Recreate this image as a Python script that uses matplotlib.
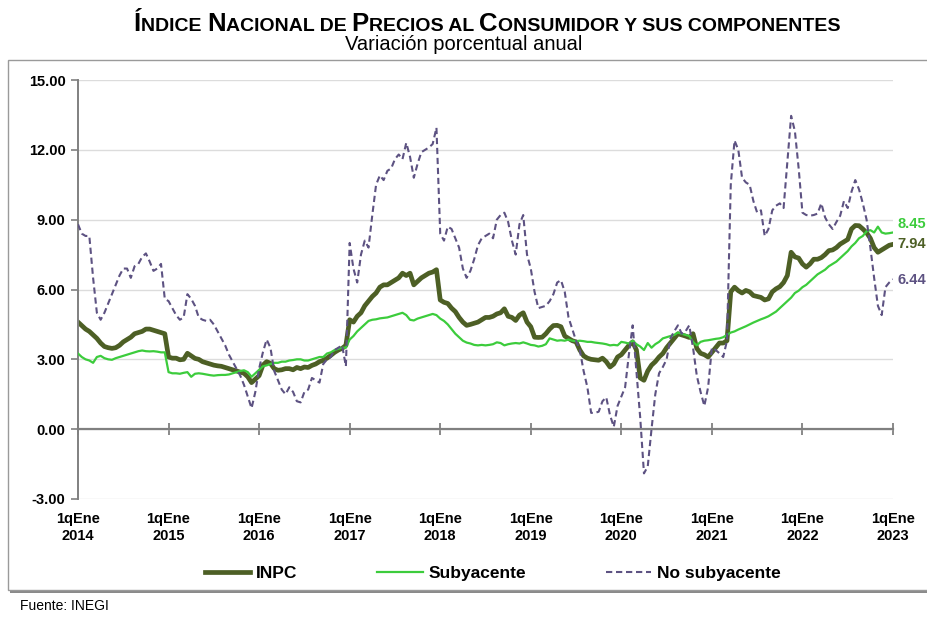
import matplotlib
matplotlib.use('Agg')
import matplotlib.pyplot as plt
from matplotlib import font_manager
from matplotlib.patches import Rectangle
import numpy as np

# ---------------- data (biweekly, 1q Jan 2014 ... 1q Jan 2023) ----------------
inpc = [
    4.60, 4.45, 4.30, 4.20, 4.05, 3.90, 3.70, 3.55, 3.50, 3.47, 3.50, 3.60, 3.75, 3.85, 3.95, 4.10, 4.15, 4.20, 4.30, 4.30, 4.25, 4.20, 4.15, 4.10,
    3.10, 3.05, 3.05, 2.98, 3.00, 3.26, 3.15, 3.04, 3.00, 2.90, 2.85, 2.80, 2.75, 2.72, 2.70, 2.65, 2.60, 2.55, 2.50, 2.45, 2.40, 2.25, 2.00, 2.15,
    2.30, 2.75, 2.90, 2.83, 2.60, 2.53, 2.55, 2.60, 2.60, 2.55, 2.65, 2.60, 2.67, 2.65, 2.74, 2.80, 2.90, 2.96, 3.05, 3.17, 3.30, 3.40, 3.47, 3.60,
    4.70, 4.60, 4.85, 5.00, 5.30, 5.50, 5.70, 5.85, 6.10, 6.20, 6.20, 6.30, 6.40, 6.50, 6.70, 6.60, 6.70, 6.20, 6.35, 6.50, 6.60, 6.70, 6.75, 6.85,
    5.55, 5.45, 5.40, 5.20, 5.05, 4.80, 4.60, 4.46, 4.50, 4.55, 4.60, 4.70, 4.80, 4.80, 4.85, 4.95, 5.00, 5.17, 4.85, 4.80, 4.67, 4.90, 5.00, 4.60,
    4.40, 3.95, 3.94, 3.95, 4.10, 4.30, 4.45, 4.46, 4.40, 4.00, 3.90, 3.80, 3.75, 3.40, 3.15, 3.05, 3.00, 2.98, 2.96, 3.05, 2.90, 2.67, 2.80, 3.10,
    3.20, 3.40, 3.60, 3.75, 3.40, 2.20, 2.10, 2.50, 2.75, 2.90, 3.10, 3.25, 3.50, 3.70, 3.90, 4.10, 4.05, 4.00, 3.94, 4.10, 3.47, 3.26, 3.20, 3.10,
    3.30, 3.50, 3.70, 3.70, 3.80, 5.90, 6.10, 5.95, 5.85, 5.96, 5.90, 5.74, 5.70, 5.66, 5.55, 5.60, 5.90, 6.03, 6.12, 6.30, 6.60, 7.60, 7.40, 7.35,
    7.10, 6.96, 7.10, 7.30, 7.30, 7.37, 7.50, 7.67, 7.70, 7.80, 7.95, 8.05, 8.15, 8.60, 8.75, 8.74, 8.60, 8.44, 8.20, 7.80, 7.60, 7.70, 7.80, 7.90,
    7.94,
]

subyacente = [
    3.25, 3.10, 3.00, 2.95, 2.85, 3.10, 3.15, 3.05, 3.00, 2.98, 3.05, 3.10, 3.15, 3.20, 3.25, 3.30, 3.35, 3.38, 3.35, 3.34, 3.35, 3.33, 3.30, 3.30,
    2.45, 2.40, 2.40, 2.38, 2.42, 2.45, 2.25, 2.38, 2.40, 2.38, 2.35, 2.32, 2.30, 2.32, 2.33, 2.33, 2.35, 2.40, 2.45, 2.50, 2.53, 2.45, 2.25, 2.40,
    2.55, 2.70, 2.74, 2.80, 2.85, 2.85, 2.90, 2.90, 2.95, 2.97, 3.00, 3.00, 2.95, 2.95, 3.00, 3.05, 3.10, 3.10, 3.25, 3.30, 3.40, 3.45, 3.50, 3.50,
    3.85, 4.00, 4.20, 4.35, 4.50, 4.65, 4.70, 4.72, 4.76, 4.78, 4.80, 4.85, 4.90, 4.95, 5.00, 4.90, 4.70, 4.67, 4.75, 4.80, 4.85, 4.90, 4.95, 4.90,
    4.75, 4.65, 4.50, 4.30, 4.10, 3.95, 3.80, 3.72, 3.68, 3.62, 3.60, 3.62, 3.60, 3.62, 3.65, 3.73, 3.70, 3.60, 3.65, 3.68, 3.70, 3.68, 3.73, 3.68,
    3.62, 3.60, 3.55, 3.58, 3.65, 3.90, 3.85, 3.80, 3.82, 3.80, 3.85, 3.80, 3.78, 3.80, 3.78, 3.75, 3.75, 3.72, 3.70, 3.68, 3.65, 3.60, 3.62, 3.60,
    3.75, 3.72, 3.68, 3.80, 3.65, 3.55, 3.40, 3.70, 3.50, 3.65, 3.75, 3.90, 3.95, 4.00, 4.05, 4.15, 4.10, 4.05, 4.00, 3.75, 3.60, 3.75, 3.80, 3.82,
    3.85, 3.88, 3.90, 3.95, 4.05, 4.15, 4.20, 4.28, 4.35, 4.42, 4.50, 4.58, 4.65, 4.72, 4.78, 4.85, 4.95, 5.05, 5.20, 5.35, 5.50, 5.65, 5.85, 5.95,
    6.10, 6.20, 6.35, 6.50, 6.65, 6.75, 6.85, 7.00, 7.10, 7.20, 7.35, 7.50, 7.65, 7.85, 8.00, 8.20, 8.30, 8.50, 8.55, 8.45, 8.70, 8.45, 8.40, 8.42,
    8.45,
]

no_subyacente = [
    8.80, 8.40, 8.30, 8.30, 6.50, 5.00, 4.70, 5.00, 5.40, 5.80, 6.20, 6.60, 6.90, 6.90, 6.50, 7.00, 7.10, 7.40, 7.55, 7.20, 6.80, 6.90, 7.10, 5.60,
    5.50, 5.20, 4.90, 4.70, 4.80, 5.80, 5.60, 5.30, 4.80, 4.70, 4.65, 4.70, 4.50, 4.20, 3.90, 3.60, 3.20, 2.90, 2.60, 2.30, 1.90, 1.40, 0.90, 1.60,
    2.60, 3.30, 3.85, 3.50, 2.50, 2.10, 1.70, 1.50, 1.80, 1.60, 1.20, 1.15, 1.60, 1.70, 2.20, 2.10, 2.00, 2.80, 3.00, 3.10, 3.40, 3.50, 3.60, 2.70,
    8.00, 6.90, 6.30, 7.50, 8.10, 7.80, 9.20, 10.50, 10.90, 10.70, 11.10, 11.20, 11.60, 11.80, 11.60, 12.30, 11.70, 10.80, 11.40, 11.90, 12.00, 12.10, 12.25, 12.95,
    8.40, 8.10, 8.70, 8.60, 8.20, 7.80, 6.90, 6.50, 6.80, 7.30, 7.90, 8.20, 8.30, 8.40, 8.20, 9.00, 9.20, 9.30, 8.90, 8.10, 7.50, 8.80, 9.20, 7.50,
    6.90, 5.90, 5.20, 5.25, 5.30, 5.50, 5.80, 6.30, 6.40, 5.90, 4.80, 4.30, 3.80, 3.40, 2.50, 1.80, 0.70, 0.70, 0.75, 1.20, 1.37, 0.60, 0.10, 1.00,
    1.40, 1.80, 3.20, 4.46, 2.50, 0.50, -1.90, -1.60, 0.00, 1.50, 2.40, 2.67, 3.00, 3.90, 4.20, 4.46, 4.10, 4.20, 4.46, 3.50, 2.30, 1.60, 1.00, 1.80,
    3.50, 3.40, 3.26, 3.10, 3.80, 10.50, 12.40, 12.00, 10.80, 10.60, 10.50, 9.80, 9.30, 9.40, 8.30, 8.60, 9.40, 9.60, 9.70, 9.50, 11.50, 13.46, 12.80, 11.20,
    9.30, 9.20, 9.17, 9.20, 9.26, 9.70, 9.10, 8.80, 8.60, 8.90, 9.17, 9.80, 9.50, 10.20, 10.70, 10.30, 9.70, 9.00, 7.80, 6.50, 5.30, 4.90, 6.10, 6.30,
    6.44,
]

years = ["2014", "2015", "2016", "2017", "2018", "2019", "2020", "2021", "2022", "2023"]
y_ticks = [-3, 0, 3, 6, 9, 12, 15]
series_names = ["INPC", "Subyacente", "No subyacente"]

# ---------------- fonts ----------------
names = {f.name for f in font_manager.fontManager.ttflist}
BASE = 'Liberation Sans' if 'Liberation Sans' in names else 'DejaVu Sans'
NARROW = 'Liberation Sans Narrow' if 'Liberation Sans Narrow' in names else BASE

C_INPC = '#4d5f25'
C_SUB = '#3ccc3c'
C_NOSUB = '#5d5282'

W, H = 927, 617
fig = plt.figure(figsize=(W / 100, H / 100), dpi=100)


def fx(px):
    return px / W


def fy(py):
    return 1 - py / H


# outer frame with shadow (behind the axes)
shadow = Rectangle((fx(10), fy(593)), fx(940) - fx(10), fy(63) - fy(593),
                   transform=fig.transFigure, facecolor='#8a8a8a', edgecolor='none', zorder=-2)
frame = Rectangle((fx(8), fy(590)), fx(938) - fx(8), fy(60) - fy(590),
                  transform=fig.transFigure, facecolor='white', edgecolor='#9a9a9a', lw=1.0, zorder=-1)
fig.patches.extend([shadow, frame])

# ---------------- axes ----------------
ax = fig.add_axes([fx(78), fy(499), fx(893) - fx(78), fy(80) - fy(499)])
ax.patch.set_visible(False)
x = np.arange(len(inpc))
ax.set_xlim(0, len(inpc) - 1)
ax.set_ylim(-3, 15)

ax.set_yticks(y_ticks)
ax.set_yticklabels([f'{v:.2f}' for v in y_ticks], fontfamily=BASE, fontweight='bold', fontsize=10.5)
ax.yaxis.grid(True, color='#dcdcdc', lw=1.0, zorder=0)
ax.set_axisbelow(True)

for s in ['top', 'right']:
    ax.spines[s].set_visible(False)
ax.spines['left'].set_color('#808080')
ax.spines['left'].set_linewidth(1.4)
ax.spines['bottom'].set_position(('data', 0))
ax.spines['bottom'].set_color('#808080')
ax.spines['bottom'].set_linewidth(1.6)
ax.spines['bottom'].set_zorder(1)

ax.tick_params(axis='y', length=5, width=1.2, color='#808080', direction='out', pad=4)
xt = np.arange(0, len(inpc), 24)
ax.set_xticks(xt)
ax.tick_params(axis='x', direction='inout', length=9, width=1.3, color='#808080', labelbottom=False)

sec = ax.secondary_xaxis(0)
sec.set_xticks(xt)
sec.set_xticklabels([f'1qEne\n{y}' for y in years], fontfamily=NARROW, fontweight='bold',
                    fontsize=10.5, linespacing=1.3)
sec.tick_params(length=0, pad=9)
sec.spines['bottom'].set_visible(False)

l1, = ax.plot(x, inpc, color=C_INPC, lw=3.4, zorder=2, solid_joinstyle='round', label=series_names[0])
l2, = ax.plot(x, subyacente, color=C_SUB, lw=1.6, zorder=3, label=series_names[1])
l3, = ax.plot(x, no_subyacente, color=C_NOSUB, lw=1.5, dashes=(3, 1.8), zorder=4, label=series_names[2])

# end labels
for vals, col, dy in [(subyacente, C_SUB, 0.38), (inpc, C_INPC, 0.03), (no_subyacente, C_NOSUB, -0.05)]:
    ax.annotate(f'{vals[-1]:.2f}', xy=(x[-1], vals[-1] + dy), xytext=(3.5, 0), textcoords='offset points',
                va='center', ha='left', color=col, fontweight='bold', fontsize=10.5, fontfamily=BASE,
                annotation_clip=False)

# legend
fig.legend([l1, l2, l3], series_names, loc='center', bbox_to_anchor=(fx(493), fy(573)), ncol=3,
           frameon=False, prop=dict(family=NARROW, weight='bold', size=12.5),
           handlelength=2.6, handletextpad=0.35, columnspacing=4.6)

# ---------------- titles ----------------
renderer = fig.canvas.get_renderer()


def text_w(s, size, family, weight):
    t1 = fig.text(0, 0, '|' + s + '|', fontsize=size, family=family, weight=weight)
    t2 = fig.text(0, 0, '||', fontsize=size, family=family, weight=weight)
    w = t1.get_window_extent(renderer).width - t2.get_window_extent(renderer).width
    t1.remove()
    t2.remove()
    return w


def small_caps(text, xc, ybase, big, small, family, weight, color='black'):
    runs = []
    for ch in text:
        if ch == ' ':
            sz = small
            c = ' '
        elif ch.isupper():
            sz = big
            c = ch
        else:
            sz = small
            c = ch.upper()
        if runs and runs[-1][1] == sz:
            runs[-1][0] += c
        else:
            runs.append([c, sz])
    widths = [text_w(s, sz, family, weight) for s, sz in runs]
    total = sum(widths)
    xpos = xc - total / 2
    for (s, sz), w in zip(runs, widths):
        fig.text(fx(xpos), fy(ybase), s, fontsize=sz, family=family, weight=weight,
                 ha='left', va='baseline', color=color)
        xpos += w


small_caps('Índice Nacional de Precios al Consumidor y sus componentes', 487, 31, 18.5, 14.0,
           NARROW, 'bold')
fig.text(fx(464), fy(50), 'Variación porcentual anual', fontsize=14.5, family=NARROW,
         ha='center', va='baseline')
fig.text(fx(20), fy(610), 'Fuente: INEGI', fontsize=10, family=NARROW, ha='left', va='baseline')

fig.savefig('out.png', dpi=100)
